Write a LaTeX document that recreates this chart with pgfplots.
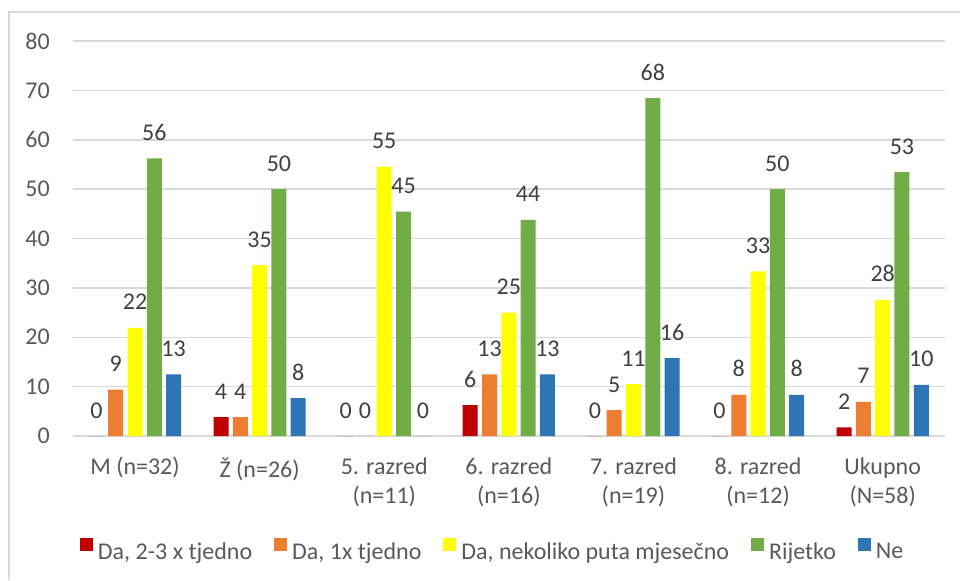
\documentclass[border=0pt]{standalone}
\usepackage{fontspec}
\setmainfont{Carlito}
\usepackage{pgfplots}
\pgfplotsset{compat=1.18}

\definecolor{cRed}{HTML}{C00000}
\definecolor{cOrange}{HTML}{ED7D31}
\definecolor{cYellow}{HTML}{FFFF00}
\definecolor{cGreen}{HTML}{70AD47}
\definecolor{cBlue}{HTML}{2E75B6}
\definecolor{gridgray}{HTML}{D9D9D9}
\definecolor{labelgray}{HTML}{595959}
\definecolor{datagray}{HTML}{404040}

\begin{document}
\begin{tikzpicture}[font=\fontsize{12}{14.5}\selectfont]
\path[use as bounding box] (0,0) rectangle (480pt,290pt);
% chart frame (only top and left edges visible)
\draw[gridgray, line width=0.75pt] (4.5pt,0) -- (4.5pt,284pt) -- (480pt,284pt);

\begin{axis}[
    at={(36.35pt,72pt)}, anchor=south west,
    scale only axis, width=436.15pt, height=197.5pt,
    ybar=2.15pt, bar width=7.5pt,
    xmin=-0.5, xmax=6.5, ymin=0, ymax=80,
    xtick={0,...,6},
    xticklabels={{M (n=32)},{Ž (n=26)},{5. razred\\(n=11)},{6. razred\\(n=16)},
                 {7. razred\\(n=19)},{8. razred\\(n=12)},{Ukupno\\(N=58)}},
    ytick={0,10,...,80},
    axis line style={draw=none},
    major tick length=0pt,
    ymajorgrids, grid style={gridgray, line width=0.75pt},
    tick label style={text=labelgray},
    xticklabel style={align=center, anchor=north, inner sep=0pt, yshift=-10.5pt},
    yticklabel style={anchor=east, inner sep=0pt, xshift=-11.3pt},
    /pgf/number format/assume math mode=true,
    clip=false,
    nodes near coords={\pgfmathprintnumber[fixed,precision=0]{\pgfplotspointmeta}},
    every node near coord/.append style={text=datagray, anchor=base, inner sep=0pt, yshift=9pt},
    legend columns=5,
    legend style={at={(0.001,-0.2896)}, anchor=west, draw=none, fill=none,
        column sep=2.5pt,
        /tikz/every even column/.append style={column sep=11pt},
        nodes={inner sep=0pt, text=labelgray}},
    legend image code/.code={\fill[#1] (0pt,0.6pt) rectangle (6.5pt,7.1pt);},
]
% Da, 2-3 x tjedno
\addplot[fill=cRed, draw=none] coordinates {
    (0,0) (1,3.846) (2,0) (3,6.25) (4,0) (5,0) (6,1.724)};
% Da, 1x tjedno
\addplot[fill=cOrange, draw=none] coordinates {
    (0,9.375) (1,3.846) (2,0) (3,12.5) (4,5.263) (5,8.333) (6,6.897)};
% Da, nekoliko puta mjesecno
\addplot[fill=cYellow, draw=none] coordinates {
    (0,21.875) (1,34.615) (2,54.545) (3,25) (4,10.526) (5,33.333) (6,27.586)};
% Rijetko
\addplot[fill=cGreen, draw=none] coordinates {
    (0,56.25) (1,50) (2,45.455) (3,43.75) (4,68.421) (5,50) (6,53.448)};
% Ne
\addplot[fill=cBlue, draw=none] coordinates {
    (0,12.5) (1,7.692) (2,0) (3,12.5) (4,15.789) (5,8.333) (6,10.345)};
\legend{{Da, 2-3 x tjedno}, {Da, 1x tjedno}, {Da, nekoliko puta mjesečno}, {Rijetko}, {Ne}}
\end{axis}
\end{tikzpicture}
\end{document}
